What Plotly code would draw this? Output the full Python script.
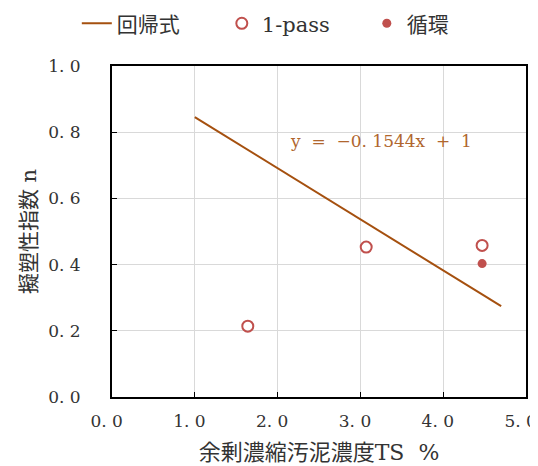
import plotly.graph_objects as go

# regression line
reg_x = [1.0, 4.7]
slope = -0.1544
intercept = 1.0
reg_y = [slope * x + intercept for x in reg_x]

# 1-pass points
pass_x = [1.64, 3.07, 4.47]
pass_y = [0.214, 0.453, 0.458]

# circulation points
circ_x = [4.47]
circ_y = [0.403]

NB = "\u00a0\u00a0"
x_ticks = [0, 1, 2, 3, 4, 5]
x_ticklabels = ["0. 0" + NB, "1. 0" + NB, "2. 0" + NB, "3. 0" + NB, "4. 0" + NB, "5. 0" + NB]
y_ticks = [0, 0.2, 0.4, 0.6, 0.8, 1.0]
y_ticklabels = ["0. 0", "0. 2", "0. 4", "0. 6", "0. 8", "1. 0"]

FONT = "DejaVu Serif, Noto Sans CJK JP, serif"
TXT = "#333333"

fig = go.Figure()
fig.add_trace(go.Scatter(x=reg_x, y=reg_y, mode="lines", name="回帰式",
                         line=dict(color="#A5500F", width=2)))
fig.add_trace(go.Scatter(x=pass_x, y=pass_y, mode="markers", name="1-pass",
                         marker=dict(symbol="circle-open", size=11,
                                     color="#C0504D", line=dict(width=2, color="#C0504D"))))
fig.add_trace(go.Scatter(x=circ_x, y=circ_y, mode="markers", name="循環",
                         marker=dict(symbol="circle", size=9, color="#C0504D")))

fig.add_annotation(x=3.25, y=0.772, xref="x", yref="y", text="y  =  −0. 1544x  +  1",
                   showarrow=False, font=dict(family=FONT, size=17, color="#B0662E"))

axis_common = dict(showgrid=True, gridcolor="#D9D9D9", gridwidth=1,
                   showline=True, linecolor="black", linewidth=2, mirror=True,
                   ticks="inside", ticklen=5, tickcolor="black", zeroline=False,
                   automargin=False, ticklabeloverflow="allow",
                   tickfont=dict(family=FONT, size=17, color=TXT))

# the page body adds an 8px offset, so the figure is sized to the remaining window
fig.update_layout(
    width=530, height=458,
    margin=dict(l=104, r=12, t=58, b=69, autoexpand=False),
    paper_bgcolor="white", plot_bgcolor="white",
    font=dict(family=FONT, size=17, color=TXT),
    showlegend=True,
    legend=dict(orientation="h", x=-0.085, xanchor="left",
                y=1.066, yanchor="bottom",
                bgcolor="rgba(0,0,0,0)",
                font=dict(family=FONT, size=21, color=TXT),
                entrywidth=100, tracegroupgap=0),
    xaxis=dict(range=[0, 5], tickvals=x_ticks, ticktext=x_ticklabels,
               ticklabelstandoff=8,
               title=dict(text="余剰濃縮汚泥濃度TS  %", font=dict(family=FONT, size=22, color=TXT), standoff=14),
               **axis_common),
    yaxis=dict(range=[0, 1.0], tickvals=y_ticks, ticktext=y_ticklabels,
               ticklabelstandoff=26,
               title=dict(text="擬塑性指数 n", font=dict(family=FONT, size=21, color=TXT), standoff=6),
               **axis_common),
)

fig.write_html("out.html")
